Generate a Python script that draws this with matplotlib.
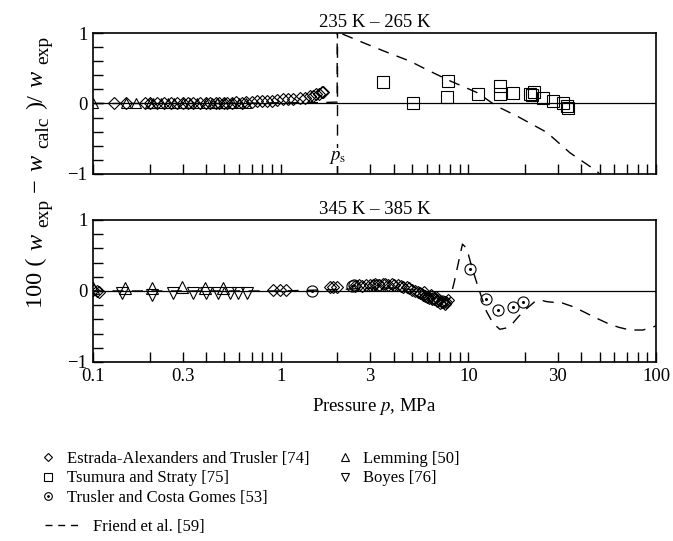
import numpy as np
import matplotlib
matplotlib.use('Agg')
from matplotlib import pyplot as plt
from matplotlib.lines import Line2D

plt.rcParams['font.family'] = ['Liberation Serif', 'DejaVu Serif']
plt.rcParams['mathtext.fontset'] = 'stix'

#--data, 235 K - 265 K -------------------------------------------------------
top_ea_p = [0.13, 0.15, 0.19, 0.2, 0.22, 0.24, 0.26, 0.28, 0.3, 0.32,
            0.34, 0.37, 0.4, 0.42, 0.45, 0.47, 0.5, 0.52, 0.55, 0.58,
            0.62, 0.65, 0.7, 0.75, 0.8, 0.85, 0.9, 0.95, 1.03, 1.1,
            1.17, 1.27, 1.35, 1.43, 1.49, 1.55, 1.6, 1.65, 1.69]
top_ea_dev = [0.0, 0.0, 0.0, 0.0, 0.0, 0.0, 0.0, 0.0, 0.0, 0.0,
              0.0, 0.0, 0.0, 0.01, 0.01, 0.0, 0.01, 0.01, 0.01, 0.02,
              0.01, 0.02, 0.02, 0.03, 0.03, 0.03, 0.04, 0.05, 0.06, 0.06,
              0.07, 0.08, 0.08, 0.10, 0.11, 0.13, 0.14, 0.16, 0.17]

top_lem_p = [0.1, 0.15, 0.17, 0.2, 0.21, 0.23, 0.25, 0.27, 0.3, 0.33,
             0.36, 0.4, 0.43, 0.46, 0.5, 0.55, 0.6, 0.65]
top_lem_dev = [0.0, 0.0, 0.0, 0.0, 0.0, 0.01, 0.0, 0.0, 0.0, 0.0,
               0.0, 0.0, 0.0, 0.0, 0.0, 0.0, 0.0, 0.0]

top_ts_p = [3.52, 5.08, 7.73, 7.8, 11.3, 14.7, 14.7, 17.3, 21.3, 21.8,
            22.3, 25.1, 28.3, 31.8, 33.7, 34.0]
top_ts_dev = [0.30, 0.01, 0.095, 0.32, 0.14, 0.255, 0.14, 0.15, 0.14, 0.12,
              0.16, 0.08, 0.04, 0.0, -0.03, -0.06]

top_fr_p = [0.1, 0.5, 1.0, 1.5, 2.0, 2.0, 2.07, 2.74, 3.5, 4.89,
            6.0, 8.0, 11.1, 14.2, 18.2, 26.2, 34.8, 48.4, 52.0]
top_fr_dev = [0.0, 0.0, 0.01, 0.01, 0.02, 1.1, 1.0, 0.865, 0.75, 0.6,
              0.48, 0.32, 0.156, -0.04, -0.18, -0.41, -0.7, -0.96, -1.05]
p_sat = 2.0

#--data, 345 K - 385 K -------------------------------------------------------
bot_ea_p = [0.1, 0.105, 0.108, 0.91, 0.99, 1.07, 1.83, 1.9, 1.99, 2.5,
            2.6, 2.7, 2.85, 3.0, 3.1, 3.2, 3.35, 3.5, 3.6, 3.75,
            3.9, 4.0, 4.2, 4.35, 4.5, 4.7, 4.85, 5.0, 5.2, 5.4,
            5.5, 5.7, 5.9, 6.0, 6.2, 6.4, 6.6, 6.8, 7.0, 7.2,
            7.4, 7.6, 7.8, 5.8, 6.3, 6.7, 7.1, 7.5]
bot_ea_dev = [0.02, 0.0, -0.02, 0.02, 0.02, 0.02, 0.05, 0.06, 0.05, 0.07,
              0.08, 0.07, 0.09, 0.08, 0.09, 0.1, 0.09, 0.1, 0.1, 0.09,
              0.1, 0.09, 0.08, 0.07, 0.06, 0.05, 0.04, 0.02, 0.0, -0.02,
              -0.03, -0.05, -0.07, -0.08, -0.1, -0.11, -0.12, -0.14, -0.13, -0.15,
              -0.16, -0.15, -0.13, -0.02, -0.06, -0.09, -0.17, -0.19]

bot_lem_p = [0.1, 0.148, 0.207, 0.297, 0.395, 0.495]
bot_lem_dev = [0.04, 0.04, 0.04, 0.05, 0.04, 0.04]

bot_boy_p = [0.142, 0.205, 0.268, 0.339, 0.40, 0.466, 0.536, 0.595, 0.66]
bot_boy_dev = [-0.03, -0.05, -0.03, -0.03, -0.03, -0.03, -0.03, -0.03, -0.03]

bot_tcg_p = [1.47, 2.39, 2.45, 3.3, 6.5, 7.2, 10.2, 12.4, 14.3, 17.3, 19.5]
bot_tcg_dev = [0.0, 0.07, 0.08, 0.08, -0.1, -0.14, 0.31, -0.11, -0.27, -0.23, -0.15]

bot_fr_p = [0.1, 0.3, 1.0, 2.0, 3.0, 4.0, 5.0, 6.0, 7.0, 7.6,
            8.0, 8.4, 8.85, 9.3, 9.8, 10.4, 11.1, 11.8, 12.5, 13.5,
            14.7, 16.0, 17.3, 18.5, 20.0, 22.6, 24.5, 26.1, 28.5, 31.7,
            36.0, 40.9, 47.0, 54.6, 63.0, 72.6, 85.0, 96.0, 100.0]
bot_fr_dev = [0.0, 0.0, 0.0, 0.02, 0.04, 0.04, 0.02, -0.05, -0.12, -0.14,
              -0.1, 0.12, 0.4, 0.66, 0.6, 0.35, 0.11, -0.1, -0.29, -0.45,
              -0.54, -0.52, -0.45, -0.36, -0.27, -0.15, -0.13, -0.15, -0.16, -0.17,
              -0.22, -0.29, -0.37, -0.45, -0.51, -0.55, -0.55, -0.51, -0.49]

x_ticks = [0.1, 0.3, 1, 3, 10, 30, 100]
x_ticklabels = ['0.1', '0.3', '1', '3', '10', '30', '100']

#--style ---------------------------------------------------------------------
W, H = 673, 541
FS = 13.5
MK = dict(ls='none', mfc='none', mec='k', mew=0.8)
DASH = dict(color='k', lw=1.0, ls=(0, (8, 6)))


def setup_axes(ax, title, show_labels):
    ax.set_xscale('log')
    ax.set_xlim(0.1, 100)
    ax.set_ylim(-1, 1)
    ax.axhline(0, color='k', lw=0.9, zorder=1)
    all_ticks = [m * 10.0 ** e for e in (-1, 0, 1) for m in range(1, 10)] + [100]
    ax.set_xticks(all_ticks)
    if show_labels:
        ax.set_xticklabels([x_ticklabels[x_ticks.index(t)] if t in x_ticks else ''
                            for t in [round(v, 6) for v in all_ticks]])
    else:
        ax.set_xticklabels([])
    ax.minorticks_off()
    ax.set_yticks(np.arange(-1, 1.01, 0.2))
    ax.set_yticklabels(['\u22121', '', '', '', '', '0', '', '', '', '', '1'])
    ax.tick_params(direction='in', length=7, width=1, labelsize=FS,
                   top=False, right=False, pad=4)
    for sp in ax.spines.values():
        sp.set_linewidth(1.2)
    ax.set_title(title, fontsize=FS, pad=4)


def circ_dot(ax, p, dev):
    ax.plot(p, dev, marker='o', ms=8, **MK)
    ax.plot(p, dev, ls='none', marker='o', ms=1.2, color='k')


def stacked_ylabel(fig, pieces, x_px, yc_px, length_px):
    # rotated label built from pieces so the subscripts keep their size
    fig.canvas.draw()
    r = fig.canvas.get_renderer()
    texts, widths = [], []
    for s, size, dx, style in pieces:
        t = fig.text(0, 0, s, rotation=90, rotation_mode='anchor', ha='left',
                     va='baseline', fontsize=size, style=style)
        widths.append(t.get_window_extent(r).height)
        texts.append((t, dx))
    gap = (length_px - sum(widths)) / (len(pieces) - 1)
    y = yc_px - length_px / 2
    for (t, dx), w in zip(texts, widths):
        t.set_position(((x_px + dx) / W, y / H))
        y += w + gap


fig = plt.figure(figsize=(W / 100, H / 100), dpi=100)
ax_top = fig.add_axes([0.1382, 0.6784, 0.8366, 0.2606])
ax_bot = fig.add_axes([0.1382, 0.3309, 0.8366, 0.2625])

setup_axes(ax_top, '235 K \u2013 265 K', False)
setup_axes(ax_bot, '345 K \u2013 385 K', True)

# top panel
ax_top.axvline(p_sat, **DASH)
ax_top.plot(top_fr_p, top_fr_dev, **DASH)
ax_top.plot(top_lem_p, top_lem_dev, marker='^', ms=7, **MK)
ax_top.plot(top_ea_p, top_ea_dev, marker='D', ms=6.5, **MK)
ax_top.plot(top_ts_p, top_ts_dev, marker='s', ms=8, **MK)
ax_top.text(p_sat, -0.76, r'$p_{\rm s}$', fontsize=FS, ha='center', va='center',
            bbox=dict(fc='white', ec='none', pad=0.5))

# bottom panel
ax_bot.plot(bot_fr_p, bot_fr_dev, **DASH)
ax_bot.plot(bot_lem_p, bot_lem_dev, marker='^', ms=8, **MK)
ax_bot.plot(bot_boy_p, bot_boy_dev, marker='v', ms=8, **MK)
ax_bot.plot(bot_ea_p, bot_ea_dev, marker='D', ms=6.5, **MK)
circ_dot(ax_bot, bot_tcg_p, bot_tcg_dev)
ax_bot.set_xlabel(r'Pressure $p$, MPa', fontsize=FS, labelpad=8)

#--legend ---------------------------------------------------------------------
LMK = dict(ls='none', mfc='none', mec='k', mew=0.8)
h_ea = Line2D([], [], marker='D', ms=4.5, **LMK)
h_ts = Line2D([], [], marker='s', ms=5.5, **LMK)
h_tcg = (Line2D([], [], marker='o', ms=5.5, **LMK),
         Line2D([], [], ls='none', marker='o', ms=1, color='k'))
h_lem = Line2D([], [], marker='^', ms=5.5, **LMK)
h_boy = Line2D([], [], marker='v', ms=5.5, **LMK)
h_fr = Line2D([], [], color='k', lw=1.0, ls=(0, (5, 4.2)))

fig.legend([h_ea, h_ts, h_tcg, h_lem, h_boy],
           ['Estrada-Alexanders and Trusler [74]', 'Tsumura and Straty [75]',
            'Trusler and Costa Gomes [53]', 'Lemming [50]', 'Boyes [76]'],
           loc='upper left', bbox_to_anchor=(40 / W, 1 - 451 / H), ncol=2,
           frameon=False, fontsize=12, handlelength=1.0, handletextpad=0.6,
           columnspacing=1.65, labelspacing=0.2, borderpad=0, borderaxespad=0)
fig.legend([h_fr], ['Friend et al. [59]'],
           loc='upper left', bbox_to_anchor=(45 / W, 1 - 519 / H),
           frameon=False, fontsize=12, handlelength=2.0, handletextpad=0.9,
           borderpad=0, borderaxespad=0)

#--y label ---------------------------------------------------------------------
MAIN, SUB = 17.5, 14
ylabel_pieces = [('100 (', MAIN, 0, 'normal'), ('w', MAIN, 0, 'italic'),
                 ('exp', SUB, 6, 'normal'), ('\u2212', MAIN, 0, 'normal'),
                 ('w', MAIN, 0, 'italic'), ('calc', SUB, 6, 'normal'),
                 (')/', MAIN, 0, 'normal'), ('w', MAIN, 0, 'italic'),
                 ('exp', SUB, 6, 'normal')]
stacked_ylabel(fig, ylabel_pieces, 42, H - 172, 272)

fig.savefig('out.png', dpi=100)
